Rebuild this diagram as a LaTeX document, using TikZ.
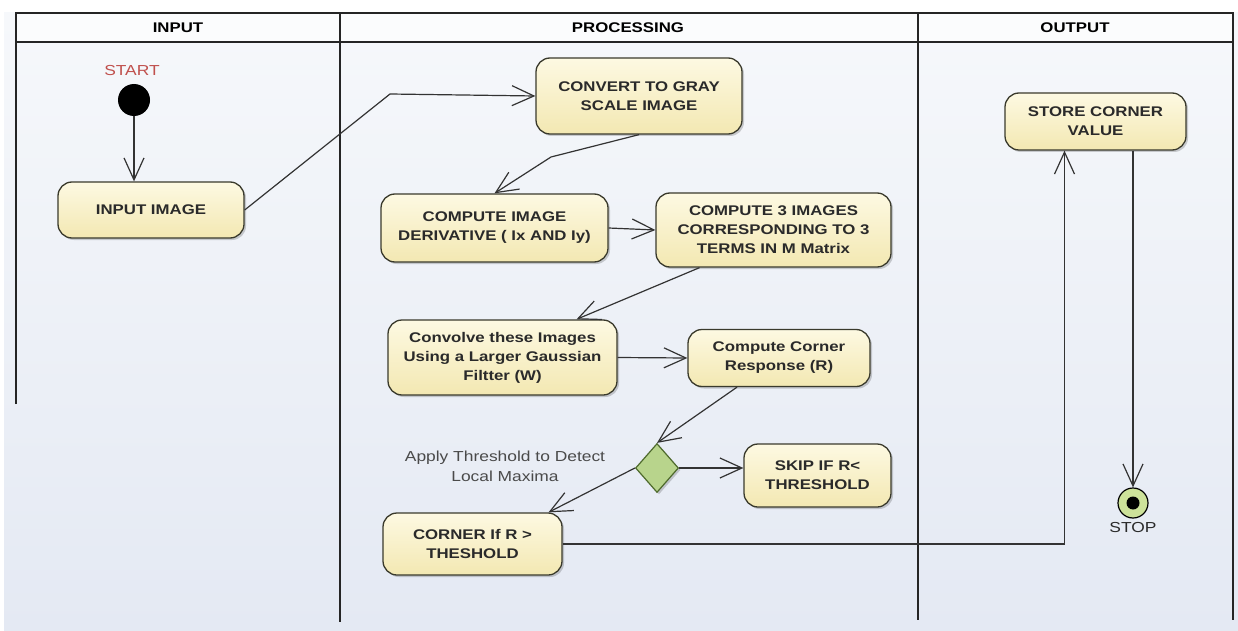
\documentclass[tikz,border=0pt]{standalone}
\usepackage{fontspec}
\setmainfont[FakeStretch=1.2]{Liberation Sans}
\usetikzlibrary{arrows.meta,shapes.geometric,shadows}
\definecolor{boxline}{HTML}{3A3A2C}
\definecolor{boxtop}{HTML}{FDF9E2}
\definecolor{boxbot}{HTML}{F3E8B2}
\definecolor{boxtext}{HTML}{2A2A2A}
\definecolor{bgtop}{HTML}{F6F8FB}
\definecolor{bgbot}{HTML}{E4E9F3}
\definecolor{lanecol}{HTML}{252525}
\definecolor{wirecol}{HTML}{333333}
\definecolor{decfill}{HTML}{B8D48C}
\definecolor{decline}{HTML}{4E6A2C}
\definecolor{stopfill}{HTML}{CDE29A}
\definecolor{startred}{HTML}{C0504D}
\definecolor{graytext}{HTML}{4A4A4A}
\begin{document}
\begin{tikzpicture}[x=1pt,y=-1pt,
  lane/.style={draw=lanecol,line width=1.4pt},
  box/.style={draw=boxline,line width=1.3pt,rounded corners=14pt,
    top color=boxtop,bottom color=boxbot,align=center,inner sep=2pt,
    text=boxtext,font=\fontsize{14}{19}\selectfont\bfseries,
    drop shadow={shadow xshift=2pt,shadow yshift=-2pt,opacity=0.18,fill=black}},
  hdr/.style={font=\fontsize{14}{17}\selectfont\bfseries,text=black},
  wire/.style={draw=wirecol,line width=1.2pt,-{Straight Barb[length=22pt,width=20pt,line width=1.2pt]}},
  line/.style={draw=wirecol,line width=1.2pt}
]
\useasboundingbox (0,0) rectangle (1238,631);
\fill[white] (0,0) rectangle (1238,631);
\shade[top color=bgtop,bottom color=bgbot] (4,13) rectangle (1238,631);
\fill[white!60!bgtop] (16,13) rectangle (1233,42);
% swimlanes
\draw[lane] (16,404) -- (16,13) -- (1233,13) -- (1233,620);
\draw[lane] (16,42) -- (1233,42);
\draw[lane] (340,13) -- (340,622);
\draw[lane] (918,13) -- (918,620);
\node[hdr] (hin) at (178,28) {INPUT};
\node[hdr] (hproc) at (628,28) {PROCESSING};
\node[hdr] (hout) at (1075,28) {OUTPUT};
% nodes
\node[circle,fill=black,minimum size=32pt,inner sep=0] (start) at (134,100) {};
\node[text=startred,font=\fontsize{14.5}{17}\selectfont] (startlbl) at (132,71) {START};
\node[box,minimum width=186pt,minimum height=56pt] (input) at (151,210) {INPUT IMAGE};
\node[box,minimum width=206pt,minimum height=76pt] (gray) at (639,96) {CONVERT TO GRAY\\SCALE IMAGE};
\node[box,minimum width=227pt,minimum height=68pt] (deriv) at (494.5,228) {COMPUTE IMAGE\\DERIVATIVE ( Ix AND Iy)};
\node[box,minimum width=235pt,minimum height=74pt] (comp3) at (773.5,230) {COMPUTE 3 IMAGES\\CORRESPONDING TO 3\\TERMS IN M Matrix};
\node[box,minimum width=229pt,minimum height=75pt] (conv) at (502.5,357.5) {Convolve these Images\\Using a Larger Gaussian\\Filtter (W)};
\node[box,minimum width=182pt,minimum height=57pt] (resp) at (779,358) {Compute Corner\\Response (R)};
\node[diamond,draw=decline,line width=1.2pt,fill=decfill,minimum width=43pt,minimum height=49pt,inner sep=0,
  drop shadow={shadow xshift=2pt,shadow yshift=-2pt,opacity=0.18,fill=black}] (dec) at (657,468) {};
\node[text=graytext,font=\fontsize{14.5}{20}\selectfont,align=center] (applylbl) at (505,466) {Apply Threshold to Detect\\Local Maxima};
\node[box,minimum width=147pt,minimum height=63pt] (skip) at (817.5,475.5) {SKIP IF R<\\THRESHOLD};
\node[box,minimum width=179pt,minimum height=62pt] (corner) at (472.5,544) {CORNER If R >\\THESHOLD};
\node[box,minimum width=181pt,minimum height=57pt] (store) at (1095.5,121.5) {STORE CORNER\\VALUE};
\node[circle,draw=black,line width=1.2pt,fill=stopfill,minimum size=30pt,inner sep=0,
  path picture={\fill[black] (path picture bounding box.center) circle (6.5pt);}] (stop) at (1133,503) {};
\node[text=boxtext,font=\fontsize{14.5}{17}\selectfont] (stoplbl) at (1133,528) {STOP};
% connectors
\draw[wire] (start) -- (start |- input.north);
\draw[wire] (input.east) -- (390,94) -- (gray.west);
\draw[wire] (gray.south) -- (551,157) -- (deriv.north);
\draw[wire] (deriv.east) -- (comp3.west);
\draw[wire] ([xshift=-74pt]comp3.south) -- ([xshift=74pt]conv.north);
\draw[wire] (conv.east) -- (resp.west);
\draw[wire] ([xshift=-42pt]resp.south) -- (dec.north);
\draw[wire] (dec.east) -- (dec.east -| skip.west);
\draw[wire] (dec.west) -- ([xshift=76pt]corner.north);
\draw[wire] (corner.east) -| ([xshift=-31pt]store.south);
\draw[wire] ([xshift=37.5pt]store.south) -- (stop.north);
\end{tikzpicture}
\end{document}
